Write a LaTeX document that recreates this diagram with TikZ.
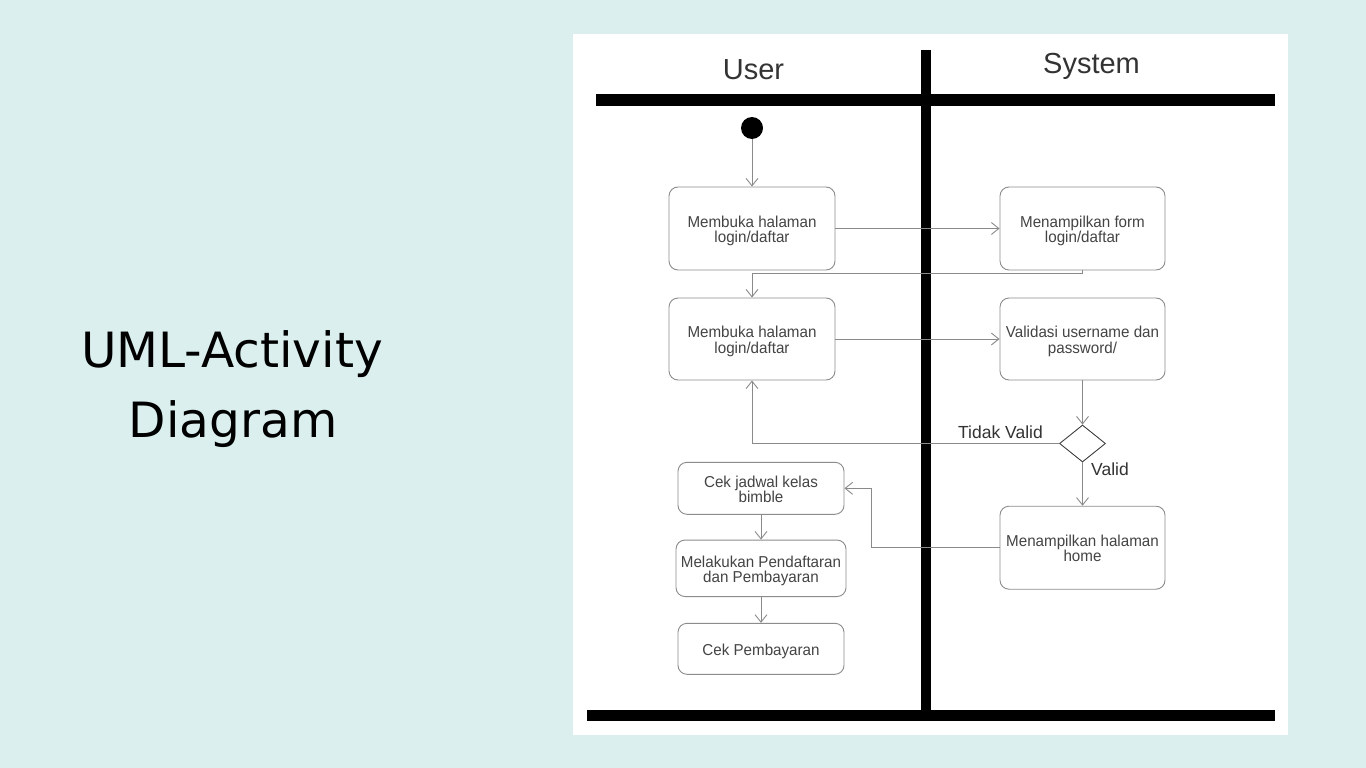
\documentclass[tikz,border=0pt]{standalone}
\usepackage{fontspec}
\setmainfont{Liberation Sans}
\newfontfamily\titlefont{DejaVu Sans}
\newfontfamily\boxfont[FakeStretch=0.96]{Liberation Sans}
\usetikzlibrary{arrows.meta,shapes.geometric}
\definecolor{bgteal}{HTML}{DAEFEE}
\definecolor{linegray}{HTML}{8A8A8A}
\definecolor{boxgray}{HTML}{8C8C8C}
\definecolor{txtgray}{HTML}{444444}
\definecolor{hdrgray}{HTML}{333333}
\tikzset{
  actbox/.style={draw=boxgray, line width=0.9pt, rounded corners=9pt, inner sep=0pt},
  btxt/.style={align=center, text=txtgray, font=\boxfont\fontsize{15.8}{15.5}\selectfont, inner sep=0pt},
  flow/.style={draw=linegray, line width=0.9pt, -{Straight Barb[length=7.5pt,width=12pt]}},
  lane/.style={line width=11pt, black},
  lbl/.style={text=hdrgray, font=\fontsize{17.5}{20}\selectfont, inner sep=0pt, anchor=base},
  hdr/.style={text=hdrgray, font=\fontsize{29}{32}\selectfont, inner sep=0pt, anchor=base},
  ttl/.style={text=black, font=\titlefont\fontsize{48.6}{60}\selectfont, inner sep=0pt, anchor=base},
}
\begin{document}
\begin{tikzpicture}[x=1pt,y=-1pt]
\useasboundingbox (0,0) rectangle (1366,768);
\fill[bgteal] (0,0) rectangle (1366,768);
\fill[white] (573,34) rectangle (1288,735);

% title
\node[ttl] (title1) at (232,367) {UML-Activity};
\node[ttl] (title2) at (233,437) {Diagram};

% swimlanes
\draw[lane] (596,100) -- (1275,100);
\draw[line width=10pt] (926,50) -- (926,710);
\draw[lane] (587,715.5) -- (1275,715.5);
\node[hdr] (huser) at (753.5,80) {User};
\node[hdr] (hsys) at (1091.5,74) {System};

% nodes
\node[circle, fill=black, minimum size=22pt, inner sep=0pt] (start) at (752,128) {};
\node[actbox, minimum width=166pt, minimum height=83pt] (b1) at (752,228.5) {};
\node[actbox, minimum width=165pt, minimum height=83pt] (b2) at (1082.5,228.5) {};
\node[actbox, minimum width=166pt, minimum height=82pt] (b3) at (752,339) {};
\node[actbox, minimum width=165pt, minimum height=82pt] (b4) at (1082.5,339) {};
\node[diamond, draw=black!75, line width=0.9pt, minimum width=46pt, minimum height=37pt, inner sep=0pt] (dec) at (1082.5,443.5) {};
\node[actbox, minimum width=165pt, minimum height=83pt] (b5) at (1082.5,547.7) {};
\node[actbox, minimum width=166pt, minimum height=52pt] (b6) at (761,488.3) {};
\node[actbox, minimum width=170pt, minimum height=56.5pt] (b7) at (761,568.3) {};
\node[actbox, minimum width=166pt, minimum height=51pt] (b8) at (761,648.8) {};

% box texts
\node[btxt] (t1) at ([yshift=-2.4pt]b1.center) {Membuka halaman\\login/daftar};
\node[btxt] (t2) at ([yshift=-2.4pt]b2.center) {Menampilkan form\\login/daftar};
\node[btxt] (t3) at ([yshift=-2.4pt]b3.center) {Membuka halaman\\login/daftar};
\node[btxt] (t4) at ([yshift=-2.4pt]b4.center) {Validasi username dan\\password/};
\node[btxt] (t5) at ([yshift=-2.4pt]b5.center) {Menampilkan halaman\\home\vphantom{g}};
\node[btxt] (t6) at ([yshift=-2.4pt]b6.center) {Cek jadwal kelas\\bimble\vphantom{g}};
\node[btxt] (t7) at ([yshift=-2.4pt]b7.center) {Melakukan Pendaftaran\\dan Pembayaran};
\node[btxt] (t8) at ([yshift=-2.4pt]b8.center) {Cek Pembayaran};

\node[lbl] (ltv) at (1000.5,438) {Tidak Valid};
\node[lbl] (lv) at (1110,475) {Valid};

% connectors
\draw[flow] (start) -- (b1);
\draw[flow] (b1.east) -- (b2.west);
\draw[flow] (b2.south) -- ++(0,3) -| (b3.north);
\draw[flow] (b3.east) -- (b4.west);
\draw[flow] (b4.south) -- (dec.north);
\draw[flow] (dec.west) -| (b3.south);
\draw[flow] (dec.south) -- (b5.north);
\draw[flow] (b5.west) -- ++(-128,0) |- (b6.east);
\draw[flow] (b6.south) -- (b7.north);
\draw[flow] (b7.south) -- (b8.north);
\end{tikzpicture}
\end{document}
